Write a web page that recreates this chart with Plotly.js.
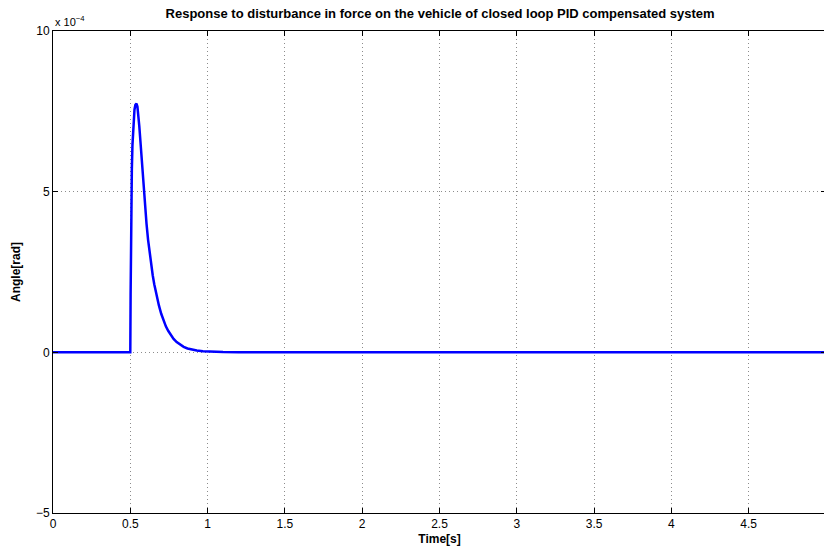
<!DOCTYPE html>
<html>
<head>
<meta charset="utf-8">
<script src="https://cdn.plot.ly/plotly-3.0.1.min.js"></script>
<style>
  html, body { margin: 0; padding: 0; overflow: hidden; background: #fff; }
  #chart { width: 828px; height: 551px; }
</style>
</head>
<body>
<div id="chart"></div>
<script>
// Pendulum angle response (units of 1e-4 rad) to a force disturbance at t = 0.5 s
const timeS = [0, 0.5, 0.502, 0.504, 0.507, 0.51, 0.514, 0.518, 0.522, 0.527, 0.533, 0.54,
  0.546, 0.552, 0.558, 0.565, 0.572, 0.58, 0.588, 0.596, 0.605, 0.615, 0.625, 0.635,
  0.645, 0.655, 0.665, 0.675, 0.685, 0.7, 0.715, 0.73, 0.745, 0.76, 0.78, 0.8, 0.82,
  0.845, 0.87, 0.9, 0.93, 0.97, 1.01, 1.05, 1.1, 1.2, 1.3, 1.5, 5];
const angleE4 = [0, 0, 1.8, 3.4, 4.8, 5.7, 6.45, 6.95, 7.3, 7.55, 7.7, 7.74,
  7.65, 7.4, 7.05, 6.6, 6.1, 5.55, 5.0, 4.5, 4.0, 3.5, 3.08, 2.72,
  2.4, 2.12, 1.87, 1.65, 1.46, 1.2, 0.99, 0.81, 0.67, 0.55, 0.42, 0.32, 0.24,
  0.17, 0.12, 0.08, 0.055, 0.035, 0.022, 0.014, 0.008, 0.003, 0.001, 0, 0];

const xTicks = [0, 0.5, 1, 1.5, 2, 2.5, 3, 3.5, 4, 4.5, 5];
const yTicks = [-5, 0, 5, 10];

const font = 'Liberation Sans, Arial, Helvetica, sans-serif';

const axisBase = {
  showline: true, linecolor: '#000', linewidth: 1, mirror: 'allticks',
  ticks: 'inside', ticklen: 5, tickcolor: '#000', tickwidth: 1,
  showgrid: true, gridcolor: '#8c8c8c', griddash: '1px,3px', gridwidth: 1,
  zeroline: false, tickfont: { family: font, size: 12, color: '#000' }
};

Plotly.newPlot('chart', [{
  x: timeS, y: angleE4, type: 'scatter', mode: 'lines',
  line: { color: '#0000ff', width: 2.5 },
  hoverinfo: 'skip'
}], {
  width: 828, height: 551,
  margin: { l: 53, r: 2, t: 31, b: 38 },
  paper_bgcolor: '#fff', plot_bgcolor: '#fff',
  showlegend: false,
  title: {
    text: '<b>Response to disturbance in force on the vehicle of closed loop PID compensated system</b>',
    font: { family: font, size: 13, color: '#000' },
    x: 0.5315, xanchor: 'center', y: 0.976, yanchor: 'middle'
  },
  xaxis: Object.assign({}, axisBase, {
    range: [0, 5], tickvals: xTicks, ticktext: xTicks.map(String),
    title: { text: '<b>Time[s]</b>', font: { family: font, size: 12, color: '#000' }, standoff: 4 }
  }),
  yaxis: Object.assign({}, axisBase, {
    range: [-5, 10], tickvals: yTicks, ticktext: yTicks.map(v => v < 0 ? '\u2212' + Math.abs(v) : String(v)),
    title: { text: '<b>Angle[rad]</b>', font: { family: font, size: 12, color: '#000' }, standoff: 12 }
  }),
  annotations: [{
    text: 'x 10<sup>\u22124</sup>', xref: 'paper', yref: 'paper', x: 0.0, y: 1.0,
    xanchor: 'left', yanchor: 'bottom', showarrow: false,
    font: { family: font, size: 11, color: '#000' }, xshift: 0, yshift: 1
  }]
}, { displayModeBar: false, staticPlot: true });
</script>
</body>
</html>
